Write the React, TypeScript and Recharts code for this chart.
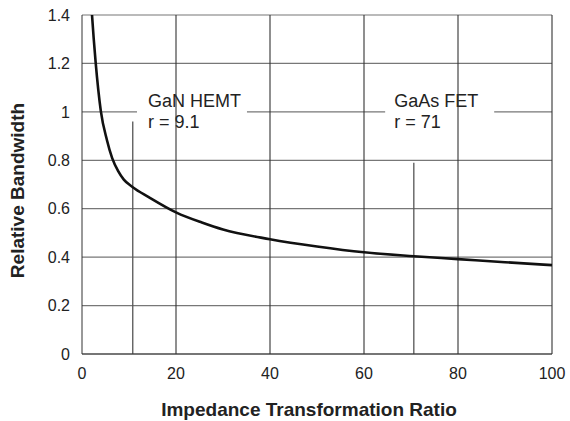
import React from 'react';
import { LineChart, Line, XAxis, YAxis, CartesianGrid, ReferenceLine, ReferenceArea, Label } from 'recharts';

// Impedance transformation ratio (x) and relative bandwidth (y)
const ratios = [1.9, 2.13, 2.9, 4.0, 5.3, 6.4, 7.7, 8.9, 10.8, 14.2, 20.1, 25.5, 30, 40, 50, 60, 70.6, 80, 90, 100];
const bandwidth = [1.47, 1.4, 1.205, 1.004, 0.884, 0.81, 0.755, 0.72, 0.689, 0.648, 0.584, 0.543, 0.514, 0.474, 0.444, 0.42, 0.404, 0.392, 0.379, 0.367];

const xTicks = [0, 20, 40, 60, 80, 100];
const yTicks = [0, 0.2, 0.4, 0.6, 0.8, 1, 1.2, 1.4];
const verticalGrid = [20, 40, 60, 80, 100];

// Device annotations
const ganRatio = 10.8;
const ganLineTop = 0.96;
const ganBox = { x1: 11.7, x2: 35.1, y1: 0.88, y2: 1.136 };
const ganText = ['GaN HEMT', 'r = 9.1'];

const gaasRatio = 70.6;
const gaasLineTop = 0.79;
const gaasBox = { x1: 64.5, x2: 87.7, y1: 0.88, y2: 1.136 };
const gaasText = ['GaAs FET', 'r = 71'];

const data = ratios.map((r, i) => ({ ratio: r, bw: bandwidth[i] }));

const FONT = '"Liberation Sans", Arial, Helvetica, sans-serif';

const makeAnnot = (lines: string[], pad: number) => (props: any) => {
  const vb = props.viewBox || {};
  const x = vb.x + pad;
  return (
    <text x={x} y={vb.y + 28.3} fill="#222" fontSize={18} fontFamily={FONT}>
      <tspan x={x}>{lines[0]}</tspan>
      <tspan x={x} dy={21}>{lines[1]}</tspan>
    </text>
  );
};

const YTitle = (props: any) => {
  const vb = props.viewBox || {};
  const cy = vb.y + vb.height / 2 + 6;
  return (
    <text
      x={23.5}
      y={cy}
      transform={`rotate(-90, 23.5, ${cy})`}
      textAnchor="middle"
      fontSize={19}
      fontWeight="bold"
      fontFamily={FONT}
      fill="#222"
    >
      Relative Bandwidth
    </text>
  );
};

const XTitle = (props: any) => {
  const vb = props.viewBox || {};
  const cx = vb.x + vb.width / 2 - 8;
  return (
    <text x={cx} y={415.7} textAnchor="middle" fontSize={19} fontWeight="bold" fontFamily={FONT} fill="#222">
      Impedance Transformation Ratio
    </text>
  );
};

export default function App() {
  return (
    <div style={{ position: 'absolute', left: 0, top: 0, background: '#fff' }}>
      <LineChart width={570} height={421} data={data} margin={{ top: 15, right: 18, bottom: 0, left: 0 }}>
        <CartesianGrid vertical={false} stroke="#777" strokeWidth={1.2} />
        <XAxis
          dataKey="ratio"
          type="number"
          domain={[0, 100]}
          ticks={xTicks}
          height={67}
          tickLine={false}
          tickSize={6}
          tickMargin={8}
          stroke="#333"
          tick={{ fill: '#222', fontSize: 16, fontFamily: FONT }}
        >
          <Label content={XTitle} />
        </XAxis>
        <YAxis
          type="number"
          domain={[0, 1.4]}
          ticks={yTicks}
          allowDataOverflow
          width={82}
          tickLine={false}
          tickSize={6}
          tickMargin={6}
          stroke="#333"
          tick={{ fill: '#222', fontSize: 16, fontFamily: FONT }}
        >
          <Label content={YTitle} />
        </YAxis>
        {verticalGrid.map((v) => (
          <ReferenceLine key={v} x={v} stroke="#333" strokeWidth={1.1} />
        ))}
        <ReferenceArea {...ganBox} fill="#fff" fillOpacity={1} stroke="none" label={makeAnnot(ganText, 11)} />
        <ReferenceArea {...gaasBox} fill="#fff" fillOpacity={1} stroke="none" label={makeAnnot(gaasText, 9)} />
        <ReferenceLine segment={[{ x: ganRatio, y: 0 }, { x: ganRatio, y: ganLineTop }]} stroke="#555" strokeWidth={1.3} />
        <ReferenceLine segment={[{ x: gaasRatio, y: 0 }, { x: gaasRatio, y: gaasLineTop }]} stroke="#555" strokeWidth={1.3} />
        <Line dataKey="bw" type="monotone" stroke="#111" strokeWidth={2.6} dot={false} isAnimationActive={false} />
      </LineChart>
    </div>
  );
}
